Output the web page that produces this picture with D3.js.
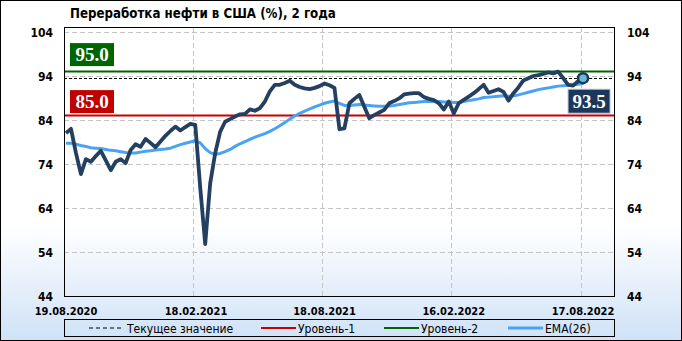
<!DOCTYPE html>
<html><head><meta charset="utf-8">
<script src="https://cdn.jsdelivr.net/npm/d3@7/dist/d3.min.js"></script>
<style>html,body{margin:0;padding:0;background:#fff;}svg{display:block;}</style>
</head><body><svg id="c" width="682" height="341"></svg>
<script>
// ---- data ----
const title = "Переработка нефти в США (%), 2 года";
const startDate = Date.UTC(2020, 7, 19); // first weekly release date
const refining = [81.0,82.0,76.5,71.7,75.1,74.5,75.8,77.0,74.8,72.6,74.5,75.1,74.2,77.2,78.5,77.9,79.7,78.8,77.8,79.1,
80.4,81.5,82.5,81.6,82.4,83.1,82.9,68.6,55.8,69.6,76.4,81.3,83.6,84.2,84.8,85.3,85.4,86.4,86.1,86.7,
88.2,90.5,92.0,92.0,92.4,92.9,92.0,91.5,91.2,91.0,91.3,91.7,92.3,91.9,91.3,81.9,82.1,87.8,88.8,89.7,
87.0,84.4,85.1,85.7,86.3,87.8,88.3,88.9,89.8,90.0,90.1,90.1,89.2,88.8,88.5,87.8,86.4,88.2,85.5,87.8,
88.6,89.3,90.1,91.0,92.0,90.2,90.6,91.0,90.4,88.4,90.1,91.4,93.0,93.5,94.0,94.2,94.5,94.8,94.6,95.0,
93.5,92.0,91.8,92.8,93.5];
const ema26 = [78.7,78.7,78.5,78.2,78.0,77.7,77.6,77.5,77.3,77.1,77.0,76.8,76.6,76.5,76.5,76.7,76.9,77.0,77.2,77.3,
77.4,77.6,78.0,78.4,78.7,79.0,79.3,78.8,77.5,76.6,76.2,76.4,76.8,77.3,78.0,78.6,79.1,79.6,80.1,80.5,
80.9,81.4,82.0,82.7,83.4,84.2,84.9,85.5,86.0,86.5,87.0,87.4,87.8,88.1,88.3,87.8,87.3,87.3,87.4,87.5,
87.4,87.3,87.2,87.1,87.1,87.2,87.3,87.5,87.7,87.9,88.0,88.1,88.2,88.2,88.2,88.2,88.1,88.1,88.0,88.0,
88.2,88.4,88.6,88.8,89.1,89.2,89.3,89.4,89.5,89.4,89.5,89.7,90.0,90.3,90.6,90.9,91.1,91.3,91.5,91.7,
91.8,91.9,92.0,92.1,92.3];
const level1 = 85.0, level2 = 95.0;
const yTicks = [44,54,64,74,84,94,104];
const xTickLabels = ["19.08.2020","18.02.2021","18.08.2021","16.02.2022","17.08.2022"];
const legendLabels = ["Текущее значение","Уровень-1","Уровень-2","EMA(26)"];

// ---- setup ----
const W = 682, H = 341;
const L = 64, R = 615, T = 27, B = 296;
const parseD = s => { const [d,m,y] = s.split(".").map(Number); return new Date(Date.UTC(y, m-1, d)); };
const dates = refining.map((_, i) => new Date(startDate + i*7*86400000));
const x = d3.scaleUtc()
  .domain([new Date(startDate - 2.83*86400000), new Date(Date.UTC(2022, 9, 1))])
  .range([L, R]);
const y = d3.scaleLinear().domain([44, 104]).range([B, 32]);
const svg = d3.select("#c");
const AX = "'DejaVu Sans Condensed','DejaVu Sans',sans-serif";

const defs = svg.append("defs");
const g = defs.append("linearGradient").attr("id","bg").attr("x1",0).attr("y1",0).attr("x2",0).attr("y2",1);
g.append("stop").attr("offset","0%").attr("stop-color","#ffffff");
g.append("stop").attr("offset","66%").attr("stop-color","#ffffff");
g.append("stop").attr("offset","100%").attr("stop-color","#cfe2f7");
svg.append("rect").attr("x",0).attr("y",0).attr("width",W).attr("height",H).attr("fill","url(#bg)");
svg.append("rect").attr("x",0.5).attr("y",0.5).attr("width",W-1).attr("height",H-1)
  .attr("fill","none").attr("stroke","#000");

// title
svg.append("text").attr("x",70).attr("y",18).text(title)
  .attr("font-family",AX).attr("font-weight","bold").attr("font-size",13.2).attr("fill","#000");

// gridlines
svg.append("g").selectAll("line").data(yTicks).join("line")
  .attr("x1",L).attr("x2",R).attr("y1",d=>Math.round(y(d))+0.5).attr("y2",d=>Math.round(y(d))+0.5)
  .attr("stroke","#c4c4c4").attr("stroke-dasharray","5,3");
svg.append("g").selectAll("line").data(xTickLabels.slice(1)).join("line")
  .attr("x1",d=>Math.round(x(parseD(d))-2.5)+0.5).attr("x2",d=>Math.round(x(parseD(d))-2.5)+0.5)
  .attr("y1",T).attr("y2",B).attr("stroke","#c4c4c4").attr("stroke-dasharray","5,3");

// axes labels
const yl = svg.append("g").attr("font-family",AX).attr("font-weight","bold").attr("font-size",12).attr("fill","#000");
yl.selectAll("text.l").data(yTicks).join("text").attr("class","l")
  .attr("x",53).attr("y",d=>y(d)+4.5).attr("text-anchor","end").text(d=>d);
yl.selectAll("text.r").data(yTicks).join("text").attr("class","r")
  .attr("x",627).attr("y",d=>y(d)+4.5).attr("text-anchor","start").text(d=>d);
svg.append("g").attr("font-family",AX).attr("font-weight","bold").attr("font-size",11).attr("fill","#000")
  .selectAll("text").data(xTickLabels).join("text")
  .attr("x",d=>x(parseD(d))).attr("y",315).attr("text-anchor","middle").text(d=>d);

// level lines
svg.append("line").attr("x1",L).attr("x2",R).attr("y1",y(level2)).attr("y2",y(level2))
  .attr("stroke","#006400").attr("stroke-width",2);
svg.append("line").attr("x1",L).attr("x2",R).attr("y1",y(level1)).attr("y2",y(level1))
  .attr("stroke","#c80000").attr("stroke-width",2);
const lastV = refining[refining.length-1];
svg.append("line").attr("x1",L).attr("x2",R).attr("y1",Math.round(y(lastV))+0.5).attr("y2",Math.round(y(lastV))+0.5)
  .attr("stroke","#000").attr("stroke-width",1).attr("stroke-dasharray","3,2");

// series
const line = d3.line().x((d,i)=>x(dates[i])).y(d=>y(d)).curve(d3.curveLinear);
svg.append("path").datum(ema26).attr("d",line).attr("fill","none")
  .attr("stroke","#4aa3f2").attr("stroke-width",3).attr("stroke-linejoin","round");
svg.append("path").datum(refining).attr("d",line).attr("fill","none")
  .attr("stroke","#243f60").attr("stroke-width",3.8).attr("stroke-linejoin","round");

// plot border
svg.append("rect").attr("x",L+0.5).attr("y",T+0.5).attr("width",R-L-1).attr("height",B-T)
  .attr("fill","none").attr("stroke","#000");

// value boxes
function box(xl, yc, w, h, fill, txt, stroke){
  svg.append("rect").attr("x",xl).attr("y",yc-h/2).attr("width",w).attr("height",h)
    .attr("fill",fill).attr("stroke",stroke||"none");
  svg.append("text").attr("x",xl+w/2).attr("y",yc+6.5).attr("text-anchor","middle")
    .attr("font-family","'Liberation Serif','Times New Roman',serif").attr("font-weight","bold")
    .attr("font-size",19).attr("fill","#fff").text(txt);
}
box(70, y(level2)-17, 44, 23, "#006400", level2.toFixed(1));
box(70, y(level1)-14, 44, 23, "#c00000", level1.toFixed(1));
const lastX = x(dates[dates.length-1]);
box(lastX-15, y(lastV)+23, 42, 24, "#1b375a", lastV.toFixed(1), "#b8c8d8");

// last point marker
svg.append("circle").attr("cx",lastX).attr("cy",y(lastV)).attr("r",5)
  .attr("fill","#6cb8d8").attr("stroke","#1b375a").attr("stroke-width",2.5);

// legend
svg.append("rect").attr("x",L+0.5).attr("y",319.5).attr("width",R-L-1).attr("height",17)
  .attr("fill","none").attr("stroke","#000");
const lg = svg.append("g").attr("font-family",AX).attr("font-size",12).attr("fill","#000");
const ly = 328;
lg.append("line").attr("x1",89).attr("x2",122).attr("y1",ly).attr("y2",ly).attr("stroke","#000").attr("stroke-dasharray","4,3");
lg.append("text").attr("x",127).attr("y",ly+4.5).text(legendLabels[0]);
lg.append("line").attr("x1",261).attr("x2",296).attr("y1",ly).attr("y2",ly).attr("stroke","#c80000").attr("stroke-width",2);
lg.append("text").attr("x",298).attr("y",ly+4.5).text(legendLabels[1]);
lg.append("line").attr("x1",384).attr("x2",419).attr("y1",ly).attr("y2",ly).attr("stroke","#006400").attr("stroke-width",2);
lg.append("text").attr("x",421).attr("y",ly+4.5).text(legendLabels[2]);
lg.append("line").attr("x1",508).attr("x2",543).attr("y1",ly).attr("y2",ly).attr("stroke","#4aa3f2").attr("stroke-width",3);
lg.append("text").attr("x",545).attr("y",ly+4.5).text(legendLabels[3]);
</script></body></html>
